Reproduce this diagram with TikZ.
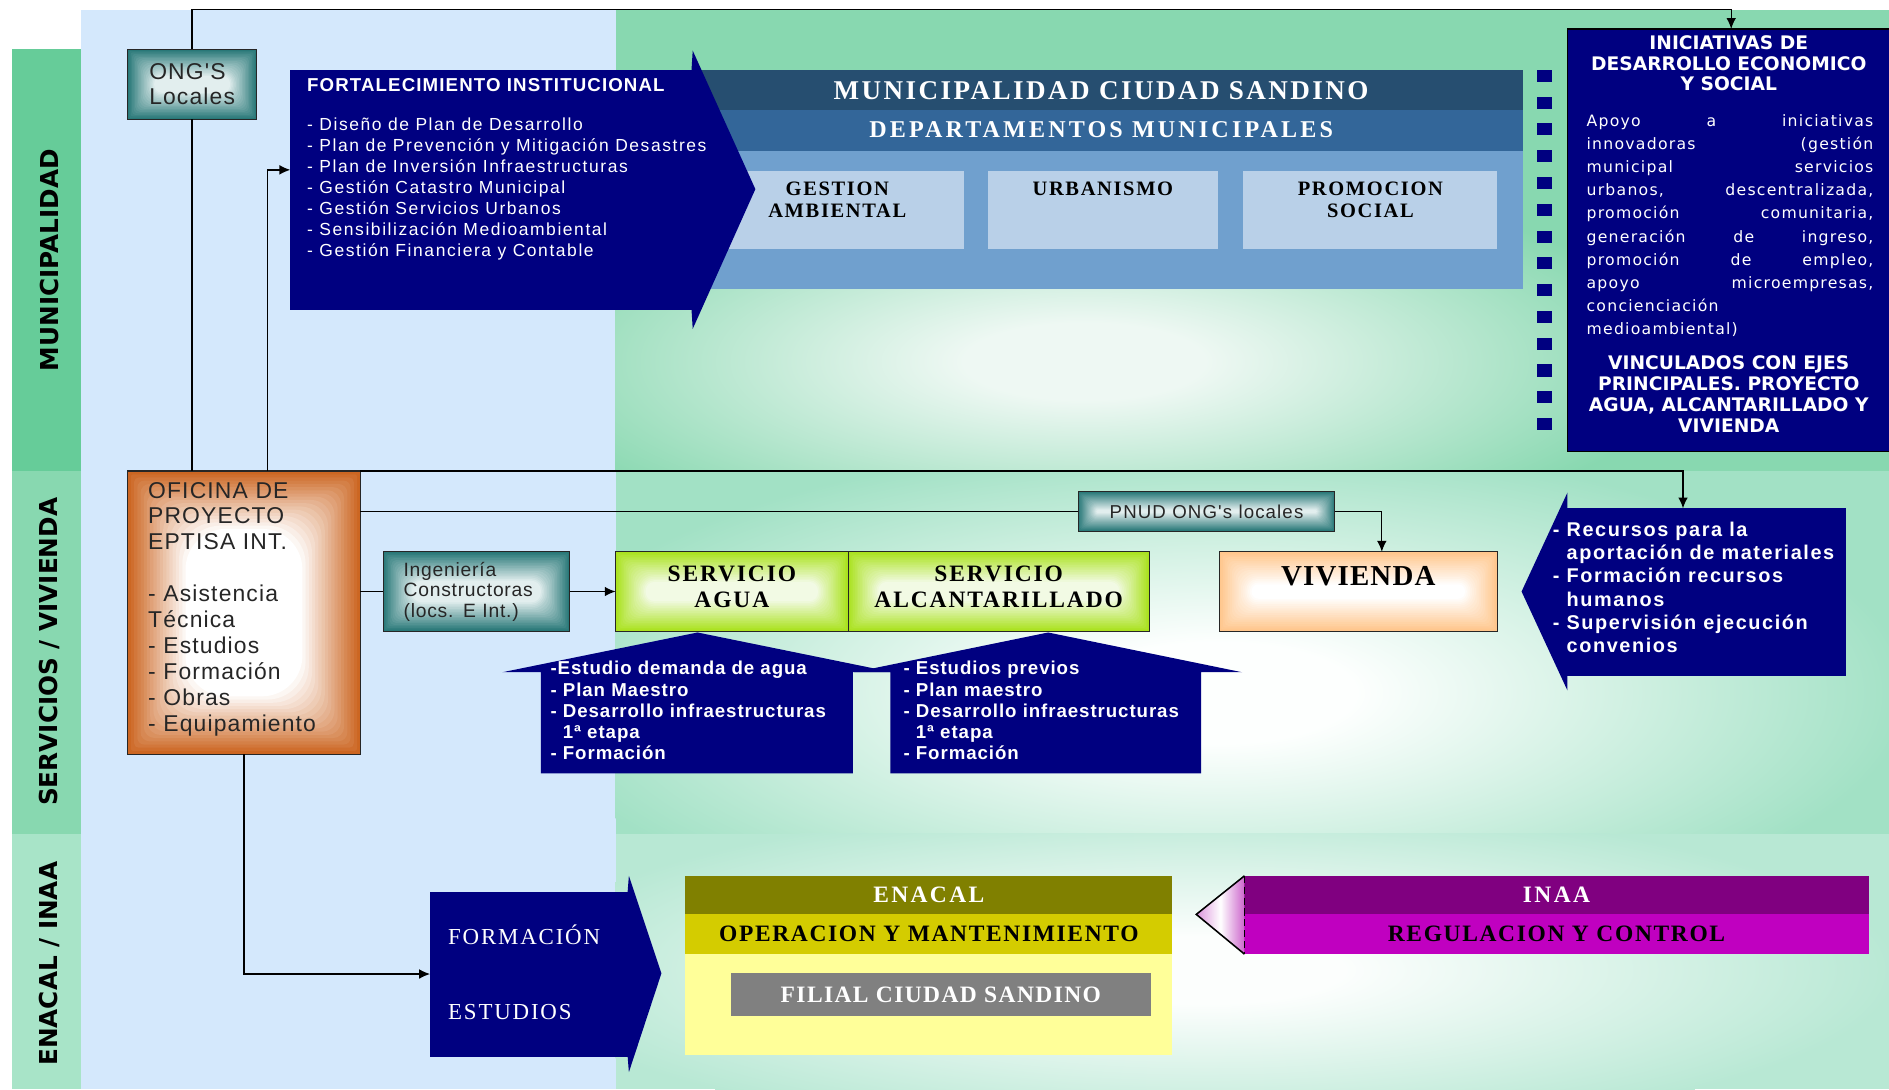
\documentclass[tikz,border=0pt]{standalone}
\usepackage{fontspec}
\setmainfont{Liberation Serif}
\newfontfamily\ar{Liberation Sans}
\newfontfamily\dv{DejaVu Sans}
\usetikzlibrary{arrows.meta}
\definecolor{navy}{RGB}{0,0,128}
\definecolor{bandA}{RGB}{102,204,153}
\definecolor{bandB}{RGB}{136,216,176}
\definecolor{bandC}{RGB}{168,228,200}
\definecolor{lblue}{RGB}{212,232,252}
\definecolor{gA}{RGB}{136,216,176}
\definecolor{gB}{RGB}{162,225,197}
\definecolor{gC}{RGB}{184,232,212}
\definecolor{tealbox}{RGB}{40,120,120}
\definecolor{tealin}{RGB}{226,238,238}
\definecolor{munA}{RGB}{38,78,112}
\definecolor{munB}{RGB}{51,102,153}
\definecolor{munC}{RGB}{112,160,206}
\definecolor{munD}{RGB}{185,208,232}
\definecolor{orng}{RGB}{204,102,34}
\definecolor{lime}{RGB}{170,226,30}
\definecolor{limein}{RGB}{242,250,228}
\definecolor{peach}{RGB}{255,198,140}
\definecolor{olivA}{RGB}{128,128,0}
\definecolor{olivB}{RGB}{212,204,0}
\definecolor{lyellow}{RGB}{255,255,153}
\definecolor{grayb}{RGB}{128,128,128}
\definecolor{purp}{RGB}{128,0,128}
\definecolor{magen}{RGB}{192,0,192}
\definecolor{pinkhead}{RGB}{204,102,204}
\definecolor{glowAin}{RGB}{238,248,243}
\definecolor{glowBin}{RGB}{253,255,254}
\definecolor{glowCin}{RGB}{252,254,253}
\pgfdeclareradialshading{glowA}{\pgfpoint{0bp}{0bp}}{color(0bp)=(glowAin); color(10bp)=(glowAin); color(50bp)=(gA)}
\pgfdeclareradialshading{glowB}{\pgfpoint{0bp}{0bp}}{color(0bp)=(glowBin); color(10bp)=(glowBin); color(50bp)=(gB)}
\pgfdeclareradialshading{glowC}{\pgfpoint{0bp}{0bp}}{color(0bp)=(glowCin); color(10bp)=(glowCin); color(50bp)=(gC)}
\newcommand\fsz[2]{\fontsize{#1}{#2}\selectfont}
\newcommand\ind{\phantom{- }}
\newcommand\jl[1]{\makebox[238pt][s]{#1}}
% free glow: name, shading, cx, cy, width, height
\newcommand\glowfree[6]{\begin{scope}[shift={(#3,#4)}]\node[inner sep=0pt,outer sep=0pt,transform shape,xscale={#5/100.375},yscale={#6/100.375}] (#1) at (0,0) {\pgfuseshading{#2}};\end{scope}}
% rectangular glow fill: x y w h outer inner ramp
\newcommand\rglow[7]{\fill[#5] (#1,#2) rectangle ++(#3,#4);%
  \foreach \k in {1,...,18}{\pgfmathsetmacro\pc{100*\k/18}\pgfmathsetmacro\ins{#7*\k/18}%
  \pgfmathsetmacro\rc{max(0.01,min(\ins*0.7,min((#4-2*\ins)/2.2,(#3-2*\ins)/2.2)))}%
  \fill[#6!\pc!#5, rounded corners=\rc pt] ({#1+\ins},{#2+\ins}) rectangle ({#1+#3-\ins},{#2+#4-\ins});}}
\begin{document}
\begin{tikzpicture}[x=1pt,y=-1pt,
  every node/.style={inner sep=0pt, outer sep=0pt},
  conn/.style={line width=1.1pt, black},
  arr/.style={conn, -{Latex[length=9pt,width=8pt]}},
  blk/.style={anchor=north west, inner sep=0pt},
  gbox/.style={blk, draw=black!85, line width=1pt},
  navybox/.style={blk, fill=navy},
  ser/.style={font=\bfseries\fsz{17}{18}\addfontfeatures{LetterSpace=8}, align=center},
  lbl/.style={rotate=90, font=\dv\bfseries\fsz{20.5}{22}},
  captxt/.style={font=\bfseries\fsz{19.5}{21}\addfontfeatures{LetterSpace=#1}}
]
\useasboundingbox (0,0) rectangle (1568,904);
% ---------- background ----------
\fill[white] (0,0) rectangle (1568,904);
\fill[bandA] (10,41) rectangle (67,391);
\fill[bandB] (10,391) rectangle (67,692);
\fill[bandC] (10,692) rectangle (67,904);
\fill[lblue] (67,8) rectangle (511,904);
\fill[gA] (511,8) rectangle (1568,391);
\fill[gB] (511,391) rectangle (1568,692);
\fill[gC] (511,692) rectangle (1568,904);
\begin{scope}
\clip (511,8) rectangle (1568,391);
\glowfree{glA}{glowA}{900}{300}{1000}{320}
\end{scope}
\begin{scope}
\clip (511,391) rectangle (1568,692);
\glowfree{glB}{glowB}{1010}{575}{1150}{420}
\end{scope}
\begin{scope}
\clip (511,692) rectangle (1568,904);
\glowfree{glC}{glowC}{1000}{805}{1150}{280}
\end{scope}
% ---------- strip labels ----------
\node[lbl] (lblmun) at (41,216) {MUNICIPALIDAD};
\node[lbl] (lblser) at (41,541) {SERVICIOS / VIVIENDA};
\node[lbl] (lblena) at (41,800) {ENACAL / INAA};
% ---------- ONG ----------
\rglow{106}{41}{107}{58}{tealbox}{tealin}{22}
\node[gbox, minimum width=107pt, minimum height=58pt] (ong) at (106,41) {};
\node[align=left, font=\ar\fsz{19}{21}\addfontfeatures{LetterSpace=5}, text=black!85] (ongt) at (ong.center) {ONG'S\\Locales};
% ---------- municipalidad block ----------
\node[blk, fill=munC, minimum width=700pt, minimum height=115pt] (munc) at (564,125) {};
\node[blk, fill=munA, minimum width=700pt, minimum height=34pt, text=white, font=\bfseries\fsz{22.5}{24}\addfontfeatures{LetterSpace=9}] (muna) at (564,58) {MUNICIPALIDAD CIUDAD SANDINO};
\node[blk, fill=munB, minimum width=700pt, minimum height=34pt, text=white, font=\bfseries\fsz{20}{22}\addfontfeatures{LetterSpace=13}] (munb) at (564,91) {DEPARTAMENTOS MUNICIPALES};
\node[blk, fill=munD, minimum width=210pt, minimum height=65pt] (dep1) at (590,142) {};
\node[blk, fill=munD, minimum width=191pt, minimum height=65pt] (dep2) at (820,142) {};
\node[blk, fill=munD, minimum width=211pt, minimum height=65pt] (dep3) at (1032,142) {};
\node[ser, anchor=north] (dep1t) at ([yshift=-9pt]dep1.north) {GESTION\\AMBIENTAL};
\node[ser, anchor=north] (dep2t) at ([yshift=-9pt]dep2.north) {URBANISMO};
\node[ser, anchor=north] (dep3t) at ([yshift=-9pt]dep3.north) {PROMOCION\\SOCIAL};
% ---------- fortalecimiento arrow ----------
\node[navybox, minimum width=334pt, minimum height=199pt] (fort) at (241,58) {};
\fill[navy] (574,58) -- (575,42) -- (627,157) -- (575,273) -- (574,257) -- cycle;
\node[anchor=west, text=white, font=\ar\bfseries\fsz{15.5}{16}\addfontfeatures{LetterSpace=6}] (fortt) at (255,71) {FORTALECIMIENTO INSTITUCIONAL};
\node[anchor=north west, align=left, text=white, font=\ar\fsz{14.5}{17.4}\addfontfeatures{LetterSpace=9}] (fortl) at (255,98) {- Diseño de Plan de Desarrollo\\- Plan de Prevención y Mitigación Desastres\\- Plan de Inversión Infraestructuras\\- Gestión Catastro Municipal\\- Gestión Servicios Urbanos\\- Sensibilización Medioambiental\\- Gestión Financiera y Contable};
% ---------- dotted column ----------
\foreach \i in {0,...,13} \fill[navy] (1276,{58+\i*22.23}) rectangle ++(12,10);
% ---------- iniciativas ----------
\node[navybox, draw=black, line width=1.2pt, minimum width=272pt, minimum height=351pt] (inic) at (1301,24) {};
\node[anchor=north, align=center, text=white, font=\dv\bfseries\fsz{15.5}{17}] (inich) at (1435,30) {INICIATIVAS DE\\DESARROLLO ECONOMICO\\Y SOCIAL};
\node[anchor=north west, align=left, text=white, font=\dv\fsz{13}{19.2}\addfontfeatures{LetterSpace=8}] (inicp) at (1317,95) {\jl{Apoyo a iniciativas}\\\jl{innovadoras (gestión}\\\jl{municipal servicios}\\\jl{urbanos, descentralizada,}\\\jl{promoción comunitaria,}\\\jl{generación de ingreso,}\\\jl{promoción de empleo,}\\\jl{apoyo microempresas,}\\concienciación\\medioambiental)};
\node[anchor=north, align=center, text=white, font=\dv\bfseries\fsz{15.5}{17.5}] (inicv) at (1435,295) {VINCULADOS CON EJES\\PRINCIPALES. PROYECTO\\AGUA, ALCANTARILLADO Y\\VIVIENDA};
% ---------- oficina ----------
\rglow{106}{391}{193}{235}{orng}{white}{48}
\node[gbox, minimum width=193pt, minimum height=235pt] (ofi) at (106,391) {};
\node[text width=159pt, align=left, font=\ar\fsz{19}{21.5}\addfontfeatures{LetterSpace=5}, text=black!85] (ofit) at ([yshift=3pt]ofi.center) {OFICINA DE\\PROYECTO\\EPTISA INT.\\[21.5pt]- Asistencia\\Técnica\\- Estudios\\- Formación\\- Obras\\- Equipamiento};
% ---------- servicios ----------
\rglow{895}{408}{213}{33}{tealbox}{tealin}{15}
\node[gbox, minimum width=213pt, minimum height=33pt] (pnud) at (895,408) {};
\node[font=\ar\fsz{15.5}{17}\addfontfeatures{LetterSpace=6}, text=black!85] (pnudt) at (pnud.center) {PNUD ONG's locales};
\rglow{318}{458}{155}{66}{tealbox}{tealin}{24}
\node[gbox, minimum width=155pt, minimum height=66pt] (ing) at (318,458) {};
\node[text width=121pt, align=left, font=\ar\fsz{16}{17}\addfontfeatures{LetterSpace=4}, text=black!85] (ingt) at (ing.center) {Ingeniería\\Constructoras\\(locs. E Int.)};
\rglow{511}{458}{193}{66}{lime}{limein}{25}
\node[gbox, minimum width=193pt, minimum height=66pt] (agua) at (511,458) {};
\node[align=center, font=\bfseries\fsz{19.5}{21}\addfontfeatures{LetterSpace=8}] (aguat) at ([yshift=4pt]agua.center) {SERVICIO\\AGUA};
\rglow{704}{458}{250}{66}{lime}{limein}{25}
\node[gbox, minimum width=250pt, minimum height=66pt] (alc) at (704,458) {};
\node[align=center, font=\bfseries\fsz{19.5}{21}\addfontfeatures{LetterSpace=8}] (alct) at ([yshift=4pt]alc.center) {SERVICIO\\ALCANTARILLADO};
\rglow{1012}{458}{231}{66}{peach}{white}{27}
\node[gbox, minimum width=231pt, minimum height=66pt] (viv) at (1012,458) {};
\node[font=\bfseries\fsz{24}{26}\addfontfeatures{LetterSpace=4}] (vivt) at ([yshift=13pt]viv.center) {VIVIENDA};
% up arrows
\fill[navy] (449,642) -- (449,558) -- (417,558) -- (579,525) -- (741,558) -- (708,558) -- (708,642) -- cycle;
\fill[navy] (739,642) -- (739,558) -- (709,558) -- (870,525) -- (1031,558) -- (997,558) -- (997,642) -- cycle;
\node[anchor=north west, align=left, text=white, font=\ar\bfseries\fsz{15.5}{17.5}\addfontfeatures{LetterSpace=5}] (a1t) at (457,549) {-Estudio demanda de agua\\- Plan Maestro\\- Desarrollo infraestructuras\\\ind 1ª etapa\\- Formación};
\node[anchor=north west, align=left, text=white, font=\ar\bfseries\fsz{15.5}{17.5}\addfontfeatures{LetterSpace=5}] (a2t) at (750,549) {- Estudios previos\\- Plan maestro\\- Desarrollo infraestructuras\\\ind 1ª etapa\\- Formación};
% recursos arrow
\node[navybox, minimum width=232pt, minimum height=139pt] (rec) at (1300,422) {};
\fill[navy] (1301,422) -- (1301,409) -- (1263,491) -- (1301,573) -- (1301,561) -- cycle;
\node[anchor=north west, align=left, text=white, font=\ar\bfseries\fsz{16.5}{19.4}\addfontfeatures{LetterSpace=8}] (rect) at (1289,433) {- Recursos para la\\\ind aportación de materiales\\- Formación recursos\\\ind humanos\\- Supervisión ejecución\\\ind convenios};
% ---------- formacion arrow ----------
\node[navybox, minimum width=165pt, minimum height=137pt] (form) at (357,740) {};
\fill[navy] (521,740) -- (522,727) -- (549,808) -- (522,890) -- (521,877) -- cycle;
\node[anchor=west, text=white, font=\fsz{19}{20}\addfontfeatures{LetterSpace=8}] (formt) at (372,776) {FORMACIÓN};
\node[anchor=west, text=white, font=\fsz{19}{20}\addfontfeatures{LetterSpace=8}] (estt) at (372,840) {ESTUDIOS};
% ---------- enacal ----------
\node[blk, fill=lyellow, minimum width=404pt, minimum height=84pt] (en3) at (569,792) {};
\node[blk, fill=olivA, minimum width=404pt, minimum height=32pt, text=white, captxt=10] (en1) at (569,727) {ENACAL};
\node[blk, fill=olivB, minimum width=404pt, minimum height=33pt, captxt=7] (en2) at (569,759) {OPERACION Y MANTENIMIENTO};
\node[blk, fill=grayb, minimum width=348pt, minimum height=35pt, text=white, captxt=6] (fil) at (607,808) {FILIAL CIUDAD SANDINO};
% ---------- inaa ----------
\node[blk, fill=purp, minimum width=518pt, minimum height=32pt, text=white, captxt=10] (in1) at (1033,727) {INAA};
\node[blk, fill=magen, minimum width=518pt, minimum height=33pt, captxt=7] (in2) at (1033,759) {REGULACION Y CONTROL};
\shade[left color=pinkhead!70!white, right color=pinkhead, middle color=white] (1033,727) -- (993,759) -- (1033,792) -- cycle;
\draw[line width=1.3pt] (1033,727) -- (993,759) -- (1033,792);
\draw[line width=1.3pt, dash pattern=on 6pt off 3pt] (1033,727) -- (1033,792);
% ---------- connectors ----------
\coordinate (topy) at (0,8);
\draw[arr] (ong.north) -- (ong.north |- topy) -| (inic.north);
\draw[conn] (ong.south) -- (ong.south |- ofi.north);
\draw[arr] ([xshift=19.5pt]ofi.north) |- ([yshift=16.5pt]fort.west);
\draw[arr] (ofi.north east) -| ([xshift=-19pt]rec.north);
\draw[conn] (ofi.east |- pnud.west) -- (pnud.west);
\draw[arr] (pnud.east) -| ([xshift=19.5pt]viv.north);
\draw[conn] (ofi.east |- ing.west) -- (ing.west);
\draw[arr] (ing.east) -- (agua.west);
\draw[arr] (ofi.south) |- (form.west);
\end{tikzpicture}
\end{document}
